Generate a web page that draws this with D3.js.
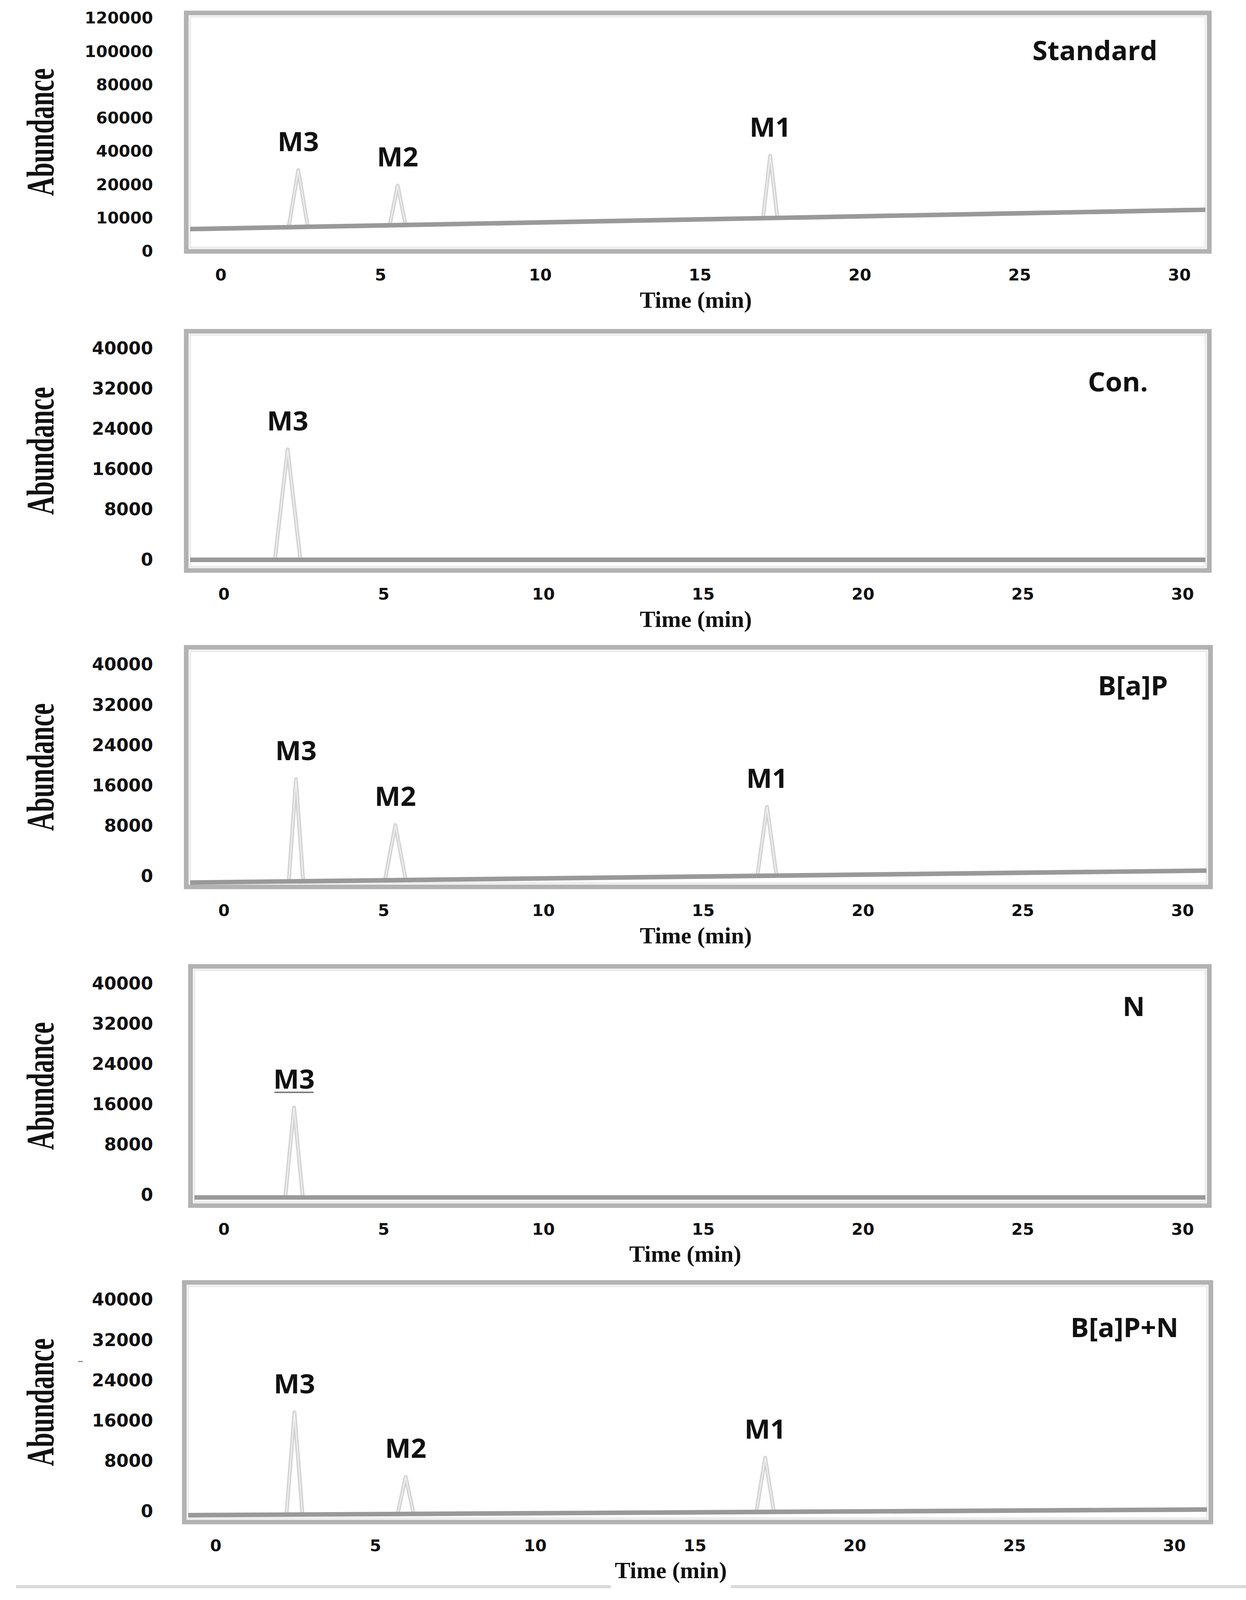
<!DOCTYPE html>
<html>
<head>
<meta charset="utf-8">
<script src="https://cdn.jsdelivr.net/npm/d3@7"></script>
<style>
  html, body { margin: 0; padding: 0; background: #fff; overflow: hidden; }
  svg { display: block; }
  .tick text { font-family: "DejaVu Sans", sans-serif; font-weight: bold; fill: #111; }
</style>
</head>
<body>
<svg id="chart"></svg>
<script>
// Chart size
const width = 3191;
const height = 4207;

// Data
const panelNames = ["Standard", "Con.", "B[a]P", "N", "B[a]P+N"];
const yTicksStandard = [0, 10000, 20000, 40000, 60000, 80000, 100000, 120000];
const yTicksSample = [0, 8000, 16000, 24000, 32000, 40000];
const xTicks = [0, 5, 10, 15, 20, 25, 30];

const peakIds = [["M3", "M2", "M1"], ["M3"], ["M3", "M2", "M1"], ["M3"], ["M3", "M2", "M1"]];
const peakTimes = [[2.43, 5.54, 17.2], [2.0], [2.26, 5.37, 17.0], [2.2], [2.47, 5.95, 17.2]];
const peakHeights = [[28800, 19800, 37400], [20000], [17300, 8200, 11800], [15400], [17700, 5500, 8700]];
const peakWidths = [[0.6, 0.5, 0.45], [0.8], [0.45, 0.65, 0.6], [0.55], [0.5, 0.5, 0.55]];

// baseline level at left and right edge of each frame
const baselineStart = [6700, 0, -1000, -400, -600];
const baselineEnd = [12500, 0, 900, -400, 300];

// Layout of each panel frame (pixels)
const frames = [
  { left: 477, right: 3097, top: 34, bottom: 661, x0: 565, x30: 3020, xlab: 1782 },
  { left: 477, right: 3097, top: 871, bottom: 1500, x0: 573, x30: 3028, xlab: 1782 },
  { left: 477, right: 3100, top: 1702, bottom: 2332, x0: 573, x30: 3028, xlab: 1782 },
  { left: 488, right: 3097, top: 2541, bottom: 3170, x0: 573, x30: 3028, xlab: 1755 },
  { left: 472, right: 3101, top: 3372, bottom: 4002, x0: 552, x30: 3007, xlab: 1718 }
];
const nameX = [2964, 2940, 2991, 2932, 3018];
const nameY = [158, 1029, 1828, 2672, 3516];

// fit the whole drawing into the visible window
const svg = d3.select("#chart")
    .attr("width", window.innerWidth || width)
    .attr("height", window.innerHeight || height)
    .attr("viewBox", `0 0 ${width} ${height}`)
    .attr("preserveAspectRatio", "none")
    .style("background", "#fff");

panelNames.forEach((name, p) => {
    const f = frames[p];
    const g = svg.append("g");

    const x = d3.scaleLinear().domain([0, 30]).range([f.x0, f.x30]);
    const xMin = x.invert(f.left + 10);
    const xMax = x.invert(f.right - 10);

    // y scale: tick labels are set out evenly in the standard panel
    let y, ticks, fontSize;
    if (p === 0) {
        ticks = yTicksStandard;
        const top = f.top + 14;
        const step = (f.bottom - top) / (ticks.length - 1);
        y = d3.scaleLinear().domain(ticks).range(ticks.map((d, i) => f.bottom - i * step));
        fontSize = 42;
    } else {
        ticks = yTicksSample;
        y = d3.scaleLinear()
            .domain([0, 8000, 40000])
            .range([f.bottom - 28, f.bottom - 160, f.top + 46]);
        fontSize = 45;
    }

    // frame
    g.append("rect")
        .attr("x", f.left).attr("y", f.top)
        .attr("width", f.right - f.left).attr("height", f.bottom - f.top)
        .attr("fill", "#fff")
        .attr("stroke", "#b2b2b2")
        .attr("stroke-width", 12);
    g.append("rect")
        .attr("x", f.left + 10).attr("y", f.top + 10)
        .attr("width", f.right - f.left - 20).attr("height", f.bottom - f.top - 20)
        .attr("fill", "none")
        .attr("stroke", "#ececec")
        .attr("stroke-width", 5);

    const base = d3.scaleLinear().domain([xMin, xMax]).range([baselineStart[p], baselineEnd[p]]);

    // peaks
    const peakLine = d3.line().x(d => x(d[0])).y(d => y(d[1]));
    peakIds[p].forEach((id, i) => {
        const t = peakTimes[p][i];
        const w = peakWidths[p][i];
        const pts = [[t - w / 2, base(t - w / 2)], [t, peakHeights[p][i]], [t + w / 2, base(t + w / 2)]];
        g.append("path")
            .attr("d", peakLine(pts))
            .attr("fill", "none")
            .attr("stroke", "#d3d3d3")
            .attr("stroke-width", 10)
            .attr("stroke-linejoin", "round");
        g.append("path")
            .attr("d", peakLine(pts))
            .attr("fill", "none")
            .attr("stroke", "#efefef")
            .attr("stroke-width", 3)
            .attr("stroke-linejoin", "round");

        g.append("text")
            .attr("x", x(t))
            .attr("y", y(peakHeights[p][i]) - 50)
            .attr("text-anchor", "middle")
            .style("font-family", "'Open Sans', sans-serif")
            .style("font-weight", 700)
            .style("font-size", "70px")
            .attr("fill", "#111")
            .text(id);
    });

    // baseline
    g.append("path")
        .attr("d", d3.line().x(d => x(d)).y(d => y(base(d)))([xMin, xMax]))
        .attr("stroke", "#999")
        .attr("stroke-width", 12)
        .attr("fill", "none");

    // y tick labels
    const yAxis = g.append("g")
        .attr("transform", "translate(392,0)")
        .call(d3.axisLeft(y).tickValues(ticks).tickSize(0).tickPadding(0).tickFormat(d3.format("d")));
    yAxis.select(".domain").remove();
    yAxis.selectAll("text").style("font-size", fontSize + "px");

    // x tick labels
    const xAxis = g.append("g")
        .attr("transform", `translate(0,${f.bottom + 47})`)
        .call(d3.axisBottom(x).tickValues(xTicks).tickSize(0).tickPadding(0));
    xAxis.select(".domain").remove();
    xAxis.selectAll("text").style("font-size", "42px");

    // axis titles
    const xt = g.append("text")
        .attr("x", f.xlab)
        .attr("y", f.bottom + 148)
        .attr("text-anchor", "middle")
        .style("font-family", "'Liberation Serif', serif")
        .style("font-weight", "bold")
        .style("font-size", "60px")
        .attr("fill", "#111")
        .text("Time (min)");

    if (p === panelNames.length - 1) {
        // separator line under the last panel, broken under its axis title
        const bb = xt.node().getBBox();
        svg.append("line")
            .attr("x1", 41).attr("x2", bb.x - 10)
            .attr("y1", 4172).attr("y2", 4172)
            .attr("stroke", "#d9d9d9").attr("stroke-width", 8);
        svg.append("line")
            .attr("x1", bb.x + bb.width + 10).attr("x2", width)
            .attr("y1", 4172).attr("y2", 4172)
            .attr("stroke", "#d9d9d9").attr("stroke-width", 8);
        g.append("line")
            .attr("x1", 200).attr("x2", 212)
            .attr("y1", 3580).attr("y2", 3580)
            .attr("stroke", "#888").attr("stroke-width", 3);
    }

    g.append("text")
        .attr("transform", `translate(137,${(f.top + f.bottom) / 2}) rotate(-90)`)
        .attr("text-anchor", "middle")
        .attr("textLength", 336)
        .attr("lengthAdjust", "spacingAndGlyphs")
        .style("font-family", "'Liberation Serif', serif")
        .style("font-weight", "bold")
        .style("font-size", "100px")
        .attr("fill", "#111")
        .text("Abundance");

    // panel name
    g.append("text")
        .attr("x", nameX[p])
        .attr("y", nameY[p])
        .attr("text-anchor", "end")
        .style("font-family", "'Open Sans', sans-serif")
        .style("font-weight", 700)
        .style("font-size", "70px")
        .attr("fill", "#111")
        .text(name);

    if (p === 3) {
        // short stroke under the M3 label
        g.append("line")
            .attr("x1", x(peakTimes[p][0]) - 50).attr("x2", x(peakTimes[p][0]) + 50)
            .attr("y1", y(peakHeights[p][0]) - 40).attr("y2", y(peakHeights[p][0]) - 40)
            .attr("stroke", "#777").attr("stroke-width", 4);
    }
});
</script>
</body>
</html>
